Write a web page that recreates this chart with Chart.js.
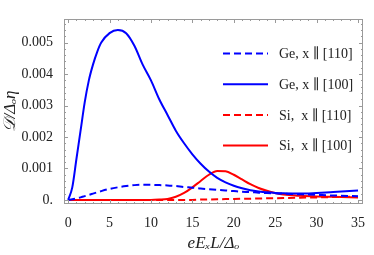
<!DOCTYPE html>
<html>
<head>
<meta charset="utf-8">
<script src="https://cdn.jsdelivr.net/npm/chart.js@4"></script>
<style>
  html, body { margin: 0; padding: 0; background: #fff; }
  #wrap { width: 374px; height: 255px; }
</style>
</head>
<body>
<div id="wrap"><canvas id="chart" width="374" height="255"></canvas></div>
<script>
// field values along the x axis
const xs = [0, 0.5, 1, 1.5, 2, 2.5, 3, 3.5, 4, 5, 6, 7, 8, 9, 10, 11, 12, 13, 14, 15,
            16, 17, 18, 19, 20, 21, 22, 23, 24, 25, 26, 28, 30, 32, 35];

const ge110 = [0, 0.00002, 0.00005, 0.00008, 0.00012, 0.00016, 0.0002, 0.00024, 0.00028, 0.00035,
               0.0004, 0.00044, 0.00047, 0.00048, 0.00048, 0.00047, 0.00046, 0.00044, 0.00041, 0.00039,
               0.00036, 0.00034, 0.00032, 0.0003, 0.00028, 0.00026, 0.00025, 0.00023, 0.00022, 0.00021,
               0.0002, 0.00018, 0.00016, 0.00014, 0.00012];

const ge100 = [0, 0.0004, 0.0013, 0.0022, 0.0031, 0.0038, 0.0043, 0.0047, 0.0050, 0.0053,
               0.0054, 0.0053, 0.0049, 0.0043, 0.0038, 0.0032, 0.0027, 0.0022, 0.0018, 0.00145,
               0.00115, 0.0009, 0.0007, 0.00056, 0.00045, 0.00037, 0.00031, 0.00027, 0.00024, 0.00022,
               0.00021, 0.0002, 0.00022, 0.00025, 0.0003];

const si110 = [0, 0, 0, 0, 0, 0, 0, 0, 0, 0,
               0, 0, 0, 0, 0, 0, 0, 0, 0, 0,
               0.00001, 0.000015, 0.00002, 0.000025, 0.00003, 0.000035, 0.00004, 0.000045, 0.00005, 0.000055,
               0.00006, 0.00007, 0.00008, 0.00009, 0.0001];

const si100 = [0, 0, 0, 0, 0, 0, 0, 0, 0, 0,
               0, 0, 0, 0, 0, 0.00001, 0.00003, 0.0001, 0.00022, 0.0004,
               0.0006, 0.0008, 0.00092, 0.00091, 0.0008, 0.00065, 0.0005, 0.00038, 0.00029, 0.00022,
               0.00017, 0.00013, 0.00011, 0.0001, 0.00008];

const seriesNames = ['Ge, x \u2225 [110]', 'Ge, x \u2225 [100]', 'Si,  x \u2225 [110]', 'Si,  x \u2225 [100]'];

const xTicks = [0, 5, 10, 15, 20, 25, 30, 35];
const yTicks = [0, 0.001, 0.002, 0.003, 0.004, 0.005];
const yTickLabels = ['0.', '0.001', '0.002', '0.003', '0.004', '0.005'];

const serif = "'Liberation Serif', 'DejaVu Serif', serif";

function pts(ys) {
    return xs.map((x, i) => ({ x: x, y: ys[i] }));
}

function line(label, ys, color, dashed) {
    return {
        label: label,
        data: pts(ys),
        borderColor: color,
        backgroundColor: color,
        borderWidth: 2,
        borderDash: dashed ? [7, 4] : [],
        pointRadius: 0,
        cubicInterpolationMode: 'monotone',
        fill: false
    };
}

// Mathematica style frame with ticks on all four sides
const framePlugin = {
    id: 'frame',
    afterDraw(chart) {
        const ctx = chart.ctx;
        const a = chart.chartArea;
        const xs_ = chart.scales.x, ys_ = chart.scales.y;
        ctx.save();
        ctx.strokeStyle = '#9a9a9a';
        ctx.lineWidth = 1;
        ctx.strokeRect(a.left + 0.5, a.top + 0.5, a.right - a.left - 1, a.bottom - a.top - 1);
        ctx.beginPath();
        for (let v = 0; v <= 35; v += 1) {
            const px = Math.round(xs_.getPixelForValue(v)) + 0.5;
            const len = v % 5 === 0 ? 4 : 2;
            ctx.moveTo(px, a.bottom); ctx.lineTo(px, a.bottom - len);
            ctx.moveTo(px, a.top); ctx.lineTo(px, a.top + len);
        }
        for (let k = 0; k <= 28; k++) {
            const v = k * 0.0002;
            const py = Math.round(ys_.getPixelForValue(v)) + 0.5;
            const len = k % 5 === 0 ? 4 : 2;
            ctx.moveTo(a.left, py); ctx.lineTo(a.left + len, py);
            ctx.moveTo(a.right, py); ctx.lineTo(a.right - len, py);
        }
        ctx.stroke();
        ctx.restore();
    }
};

// legend drawn inside the plot area, right side
const legendPlugin = {
    id: 'insideLegend',
    afterDatasetsDraw(chart) {
        const ctx = chart.ctx;
        const x0 = 223, x1 = 268, tx = 279;
        ctx.save();
        ctx.font = '14px ' + serif;
        ctx.textBaseline = 'middle';
        chart.data.datasets.forEach((ds, i) => {
            const y = 53.5 + i * 30.7;
            ctx.strokeStyle = ds.borderColor;
            ctx.lineWidth = 2;
            ctx.setLineDash(ds.borderDash);
            ctx.beginPath();
            ctx.moveTo(x0, y); ctx.lineTo(x1, y);
            ctx.stroke();
            ctx.setLineDash([]);
            ctx.fillStyle = '#222';
            ctx.fillText(ds.label, tx, y + 1);
        });
        ctx.restore();
    }
};

new Chart(document.getElementById('chart').getContext('2d'), {
    type: 'line',
    data: {
        datasets: [
            line(seriesNames[0], ge110, '#0000ff', true),
            line(seriesNames[1], ge100, '#0000ff', false),
            line(seriesNames[2], si110, '#ff0000', true),
            line(seriesNames[3], si100, '#ff0000', false)
        ]
    },
    options: {
        responsive: false,
        animation: false,
        layout: { padding: { top: 19, right: 11, left: 0, bottom: 0 } },
        plugins: {
            legend: { display: false },
            tooltip: { enabled: false }
        },
        scales: {
            x: {
                type: 'linear',
                min: -0.5,
                max: 35.6,
                afterBuildTicks: s => { s.ticks = xTicks.map(v => ({ value: v })); },
                afterFit: s => { s.height = 51; },
                grid: { display: false },
                border: { display: false },
                ticks: {
                    color: '#222',
                    font: { family: serif, size: 14 },
                    padding: 3,
                    maxRotation: 0,
                    callback: v => String(v)
                },
                title: {
                    display: true,
                    text: 'eE\u2093L/\u0394\u2092',
                    color: '#222',
                    font: { family: serif, size: 17, style: 'italic' },
                    padding: { top: 4, bottom: 1 }
                }
            },
            y: {
                type: 'linear',
                min: -0.00013,
                max: 0.00575,
                afterBuildTicks: s => { s.ticks = yTicks.map(v => ({ value: v })); },
                afterFit: s => { s.width = 64; },
                grid: { display: false },
                border: { display: false },
                ticks: {
                    color: '#222',
                    font: { family: serif, size: 14 },
                    padding: 3,
                    callback: (v) => yTickLabels[yTicks.findIndex(t => Math.abs(t - v) < 1e-9)]
                },
                title: {
                    display: true,
                    text: '\ud835\udc9f/\u0394\u2092\u03b7',
                    color: '#222',
                    font: { family: serif, size: 17, style: 'italic' },
                    padding: { top: 0, bottom: 0 }
                }
            }
        }
    },
    plugins: [framePlugin, legendPlugin]
});
</script>
</body>
</html>
